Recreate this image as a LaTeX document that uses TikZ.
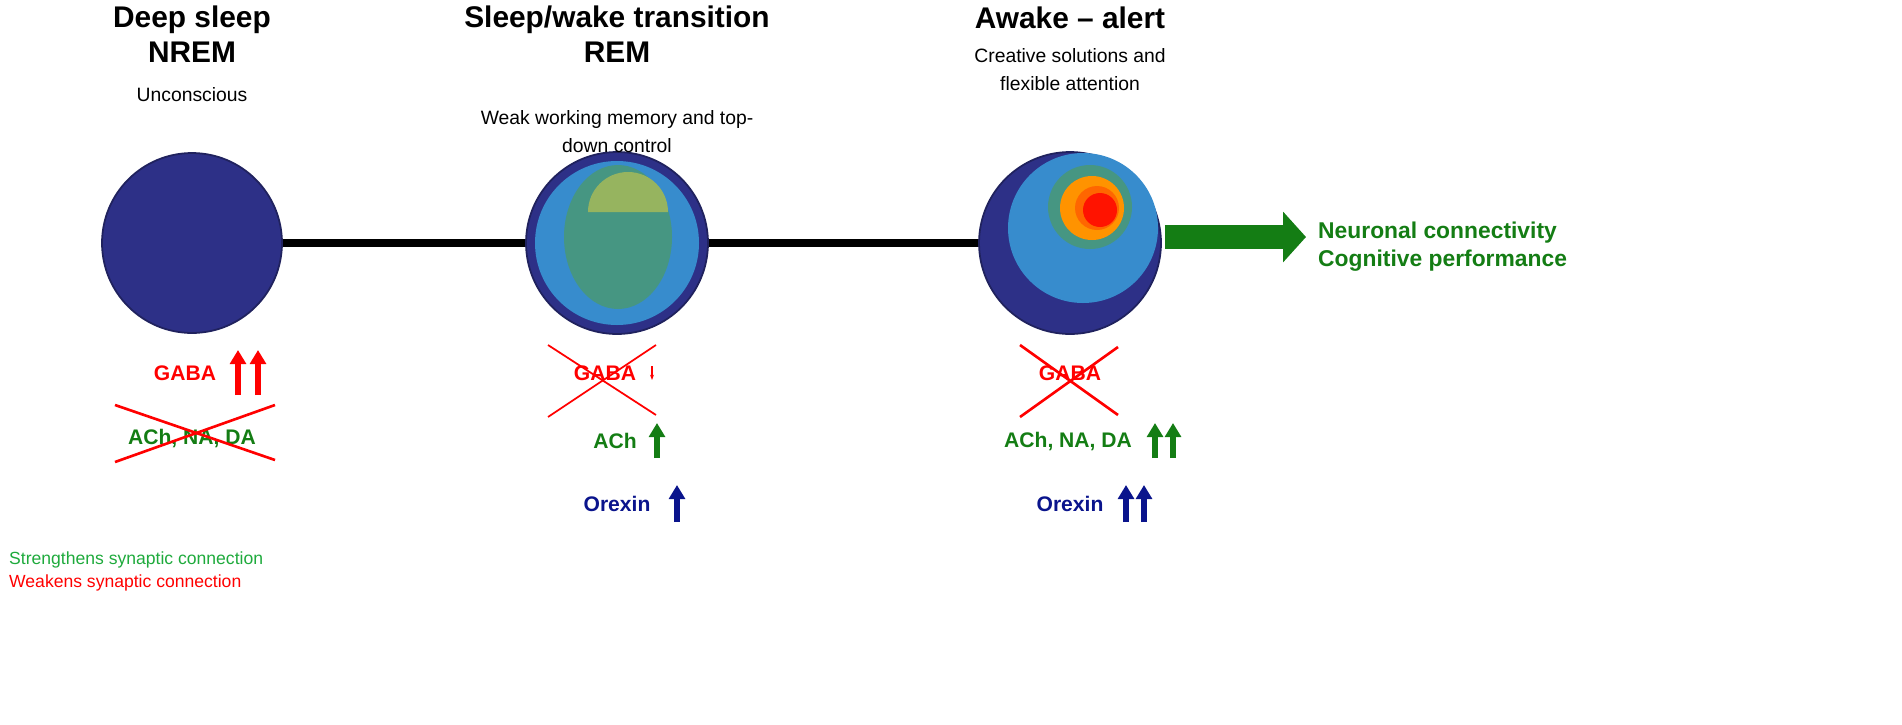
\documentclass[tikz,border=0pt]{standalone}
\usepackage{fontspec}
\setmainfont{Liberation Sans}
\usepackage{xcolor}
\usetikzlibrary{arrows.meta}
\definecolor{navy}{RGB}{45,48,135}
\definecolor{skyb}{RGB}{55,140,205}
\definecolor{tealg}{RGB}{70,150,130}
\definecolor{olive}{RGB}{150,180,95}
\definecolor{darkg}{RGB}{20,125,20}
\definecolor{legg}{RGB}{30,170,60}
\definecolor{orex}{RGB}{10,20,140}

\begin{document}
\begin{tikzpicture}[x=0.02cm,y=-0.02cm,
                    state node/.style={circle,draw=navy!70!black,line width=1pt,fill=navy,minimum size=3.6cm},
                    title/.style={font=\bfseries\fontsize{17}{20}\selectfont,align=center},
                    sub/.style={font=\fontsize{11}{16}\selectfont,align=center},
                    chem/.style={font=\bfseries\fontsize{12}{14}\selectfont},
                    up/.style={line width=3.6pt,-{Triangle[length=8pt,width=9pt]}},
                    cross/.style={red,line width=1.5pt}]

    \useasboundingbox (0,0) rectangle (1902,724);

    % timeline
    \draw[line width=4pt] (192,243) -- (1070,243);

    \node[state node] (nrem) at (192,243) {};
    \node[state node,minimum size=3.64cm] (rem) at (617,243) {};
    \node[state node,minimum size=3.64cm] (wake) at (1070,243) {};

    % REM circle
    \fill[skyb] (617,243) circle (82);
    \fill[tealg] (618,237) ellipse (54 and 72);
    \fill[olive] (588,212) arc (180:360:40) -- cycle;

    % awake circle
    \fill[skyb] (1083,228) circle (75);
    \fill[tealg] (1090,207) circle (42);
    \fill[orange!85!yellow] (1092,208) circle (32);
    \fill[orange!80!red] (1097,208) circle (22);
    \fill[red!85!orange] (1100,210) circle (17);

    \draw[darkg,line width=14pt,-{Triangle[length=13pt,width=28pt]}] (wake.east) ++(3,-6) -- (1306,237);
    \node[anchor=west,text=darkg,font=\bfseries\fontsize{13}{16}\selectfont,align=left] (perf) at (1312,247)
        {Neuronal connectivity\\Cognitive performance};

    % headings
    \node[title] (t1) at (192,34) {Deep sleep\\NREM};
    \node[sub] (s1) at (192,95) {Unconscious};
    \node[title] (t2) at (617,34) {Sleep/wake transition\\REM};
    \node[sub] (s2) at (617,132) {Weak working memory and top-\\down control};
    \node[title] (t3) at (1070,18) {Awake -- alert};
    \node[sub] (s3) at (1070,70) {Creative solutions and\\flexible attention};

    % NREM chemistry
    \node[chem,red] (gaba1) at (185,373) {GABA};
    \draw[up,red] (238,395) -- (238,350);
    \draw[up,red] (258,395) -- (258,350);
    \node[chem,darkg] (ach1) at (192,438) {ACh, NA, DA};
    \draw[cross] (115,405) -- (275,460);
    \draw[cross] (115,462) -- (275,405);

    % REM chemistry
    \node[chem,red] (gaba2) at (605,373) {GABA};
    \draw[red,line width=1pt,-{Stealth[length=3pt]}] (652,366) -- (652,380);
    \draw[cross,line width=1pt] (548,345) -- (656,415);
    \draw[cross,line width=1pt] (548,417) -- (656,345);
    \node[chem,darkg] (ach2) at (615,441) {ACh};
    \draw[up,darkg] (657,458) -- (657,423);
    \node[chem,orex] (orex2) at (617,504) {Orexin};
    \draw[up,orex] (677,522) -- (677,485);

    % awake chemistry
    \node[chem,red] (gaba3) at (1070,373) {GABA};
    \draw[cross] (1020,345) -- (1118,415);
    \draw[cross] (1020,417) -- (1118,347);
    \node[chem,darkg] (ach3) at (1068,441) {ACh, NA, DA};
    \draw[up,darkg] (1155,458) -- (1155,423);
    \draw[up,darkg] (1173,458) -- (1173,423);
    \node[chem,orex] (orex3) at (1070,504) {Orexin};
    \draw[up,orex] (1126,522) -- (1126,485);
    \draw[up,orex] (1144,522) -- (1144,485);

    % legend
    \node[anchor=west,text=legg,font=\fontsize{10}{12}\selectfont] (leg1) at (3,560) {Strengthens synaptic connection};
    \node[anchor=west,red,font=\fontsize{10}{12}\selectfont] (leg2) at (3,583) {Weakens synaptic connection};
\end{tikzpicture}
\end{document}
